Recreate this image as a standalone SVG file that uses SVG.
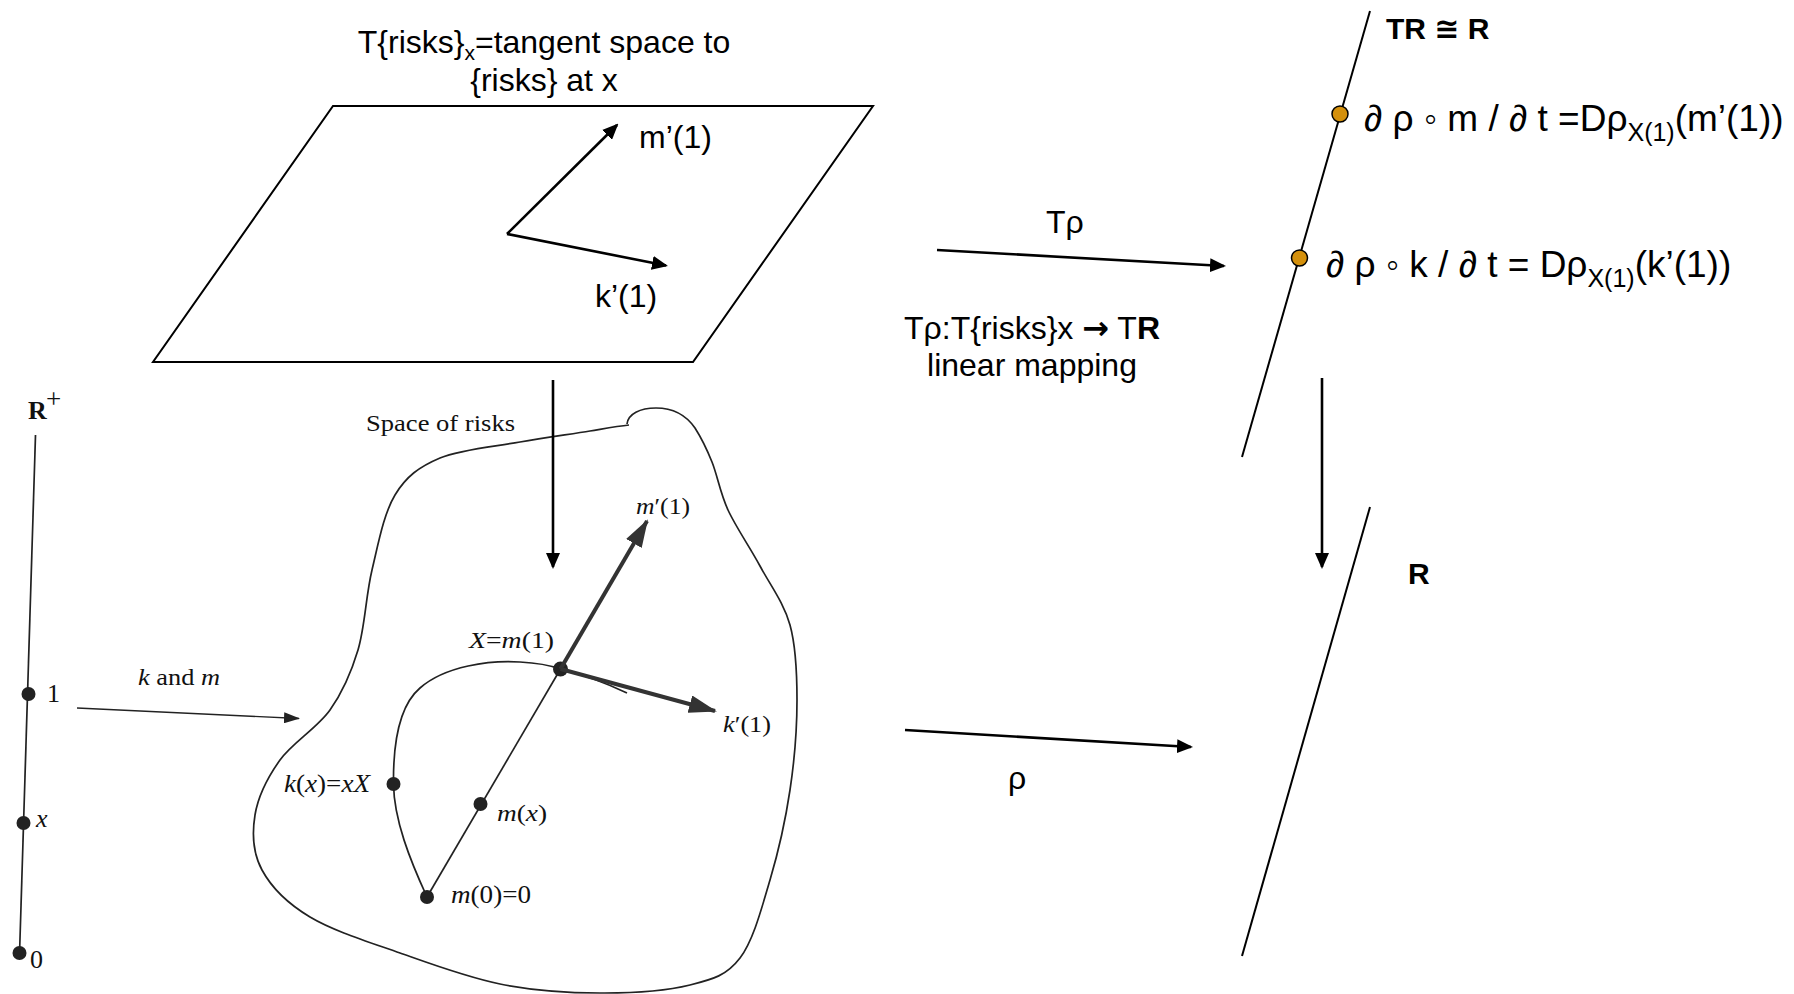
<svg xmlns="http://www.w3.org/2000/svg" width="1794" height="994" viewBox="0 0 1794 994">
<style>
  .sans{font-family:"Liberation Sans",Arial,"DejaVu Sans",sans-serif;fill:#000}
  .t32{font-size:32px}
  .t37{font-size:37px}
  .b{font-weight:bold}
  .serif{font-family:"Liberation Serif","Times New Roman",serif;fill:#111}
  .it{font-style:italic}
  .ln{fill:none;stroke:#000;stroke-width:2}
  .scan{fill:none;stroke:#222;stroke-width:1.7}
  .dot{fill:#222}
  .odot{fill:#D4900C;stroke:#000;stroke-width:1.5}
  .arr{fill:none;stroke:#000;stroke-width:2.6;marker-end:url(#ah)}
  .thick{fill:none;stroke:#333;stroke-width:4;marker-end:url(#ahThick)}
  .thin{fill:none;stroke:#222;stroke-width:1.4;marker-end:url(#ahThin)}
</style>
<defs>
  <marker id="ah" markerUnits="userSpaceOnUse" markerWidth="16" markerHeight="14" refX="14" refY="7" orient="auto" viewBox="0 0 16 14">
    <path d="M0,0 L16,7 L0,14 Z" fill="#000"/>
  </marker>
  <marker id="ahThick" markerUnits="userSpaceOnUse" markerWidth="28" markerHeight="18" refX="26" refY="9" orient="auto" viewBox="0 0 28 18">
    <path d="M0,0 L28,9 L0,18 Z" fill="#333"/>
  </marker>
  <marker id="ahThin" markerUnits="userSpaceOnUse" markerWidth="16" markerHeight="11" refX="15" refY="5.5" orient="auto" viewBox="0 0 16 11">
    <path d="M0,0 L16,5.5 L0,11 Z" fill="#222"/>
  </marker>
</defs>

<g id="tangent-space-title">
  <text class="sans t32" x="544" y="53" text-anchor="middle">T{risks}<tspan font-size="21" dy="7">x</tspan><tspan dy="-7">=tangent space to</tspan></text>
  <text class="sans t32" x="544" y="91" text-anchor="middle">{risks} at x</text>
</g>

<g id="tangent-plane">
  <polygon class="ln" points="333,106 873,106 693,362 153,362"/>
  <text class="sans t32" x="639" y="148">m’(1)</text>
  <text class="sans t32" x="595" y="307">k’(1)</text>
</g>

<g id="tr-line">
  <line class="ln" x1="1370" y1="11" x2="1242" y2="457"/>
  <text class="sans b" font-size="30" x="1386" y="39">TR ≅ R</text>
  <circle class="odot" cx="1340" cy="114" r="8"/>
  <circle class="odot" cx="1299.5" cy="258" r="8"/>
  <text class="sans t37" x="1364" y="131">∂ ρ ◦ m / ∂ t =Dρ<tspan font-size="25" dy="10">X(1)</tspan><tspan dy="-10">(m’(1))</tspan></text>
  <text class="sans t37" x="1326" y="277">∂ ρ ◦ k / ∂ t = Dρ<tspan font-size="25" dy="10">X(1)</tspan><tspan dy="-10">(k’(1))</tspan></text>
</g>

<g id="r-line">
  <line class="ln" x1="1370" y1="507" x2="1242" y2="956"/>
  <text class="sans b" font-size="30" x="1408" y="584">R</text>
</g>

<g id="r-plus-axis">
  <line class="scan" x1="35.5" y1="435" x2="19.5" y2="955"/>
  <text class="serif b" font-size="26" x="28" y="419">R</text>
  <text class="serif" font-size="27" x="46" y="408">+</text>
  <circle class="dot" cx="28.5" cy="694" r="7"/>
  <circle class="dot" cx="23.5" cy="823" r="7"/>
  <circle class="dot" cx="19.5" cy="953" r="7"/>
  <text class="serif" font-size="26" x="47" y="702">1</text>
  <text class="serif it" font-size="26" x="36" y="827">x</text>
  <text class="serif" font-size="26" x="30" y="968">0</text>
</g>

<g id="space-of-risks">
  <path class="scan" d="M627,424 C628,414 640,408 656,408 C672,408 686,415 695,428
    C700.3,436.3 706.5,448.3 712,462
    C717.5,475.7 720,492.7 728,510
    C736,527.3 749.7,546.8 760,566
    C770.3,585.2 783.8,602.7 790,625
    C796.2,647.3 797,672.5 797,700
    C797,727.5 794.5,760 790,790
    C785.5,820 778.3,852 770,880
    C761.7,908 753.3,940.5 740,958
    C726.7,975.5 713.3,979.2 690,985
    C666.7,990.8 631.7,993.2 600,993
    C568.3,992.8 533.3,990.7 500,984
    C466.7,977.3 431.7,964.2 400,953
    C368.3,941.8 333,930.8 310,917
    C287,903.2 271.2,887 262,870
    C252.8,853 252,833.3 255,815
    C258,796.7 267.5,777.5 280,760
    C292.5,742.5 317,728.3 330,710
    C343,691.7 351,673.3 358,650
    C365,626.7 365.8,595.8 372,570
    C378.2,544.2 383.7,513.7 395,495
    C406.3,476.3 419.2,466.8 440,458
    C460.8,449.2 495,446.5 520,442
    C545,437.5 572.2,434 590,431
    C607.8,428 617,426.2 629,425"/>
  <text class="serif" font-size="24" x="366" y="431" textLength="149" lengthAdjust="spacingAndGlyphs">Space of risks</text>
  <path class="scan" d="M427,897 C410,860 394,820 393.5,784 C393,740 400,705 420,688 C445,666 490,660 520,662 C540,663 552,666 560,669 C585,675 610,685 627,693"/>
  <line class="scan" x1="427" y1="897" x2="560.5" y2="669"/>
  <circle class="dot" cx="427" cy="897" r="7"/>
  <circle class="dot" cx="480.5" cy="804" r="7"/>
  <circle class="dot" cx="393.5" cy="784" r="7"/>
  <circle class="dot" cx="560.5" cy="669" r="7.5"/>
  <text class="serif" font-size="24" x="636" y="514" textLength="54" lengthAdjust="spacingAndGlyphs"><tspan class="it">m</tspan>′(1)</text>
  <text class="serif" font-size="24" x="469" y="648" textLength="85" lengthAdjust="spacingAndGlyphs"><tspan class="it">X</tspan>=<tspan class="it">m</tspan>(1)</text>
  <text class="serif" font-size="24" x="723" y="732" textLength="48" lengthAdjust="spacingAndGlyphs"><tspan class="it">k</tspan>′(1)</text>
  <text class="serif" font-size="26" x="284" y="792" textLength="86" lengthAdjust="spacingAndGlyphs"><tspan class="it">k</tspan>(<tspan class="it">x</tspan>)=<tspan class="it">xX</tspan></text>
  <text class="serif" font-size="24" x="497" y="821" textLength="50" lengthAdjust="spacingAndGlyphs"><tspan class="it">m</tspan>(<tspan class="it">x</tspan>)</text>
  <text class="serif" font-size="25" x="451" y="903" textLength="80" lengthAdjust="spacingAndGlyphs"><tspan class="it">m</tspan>(0)=0</text>
</g>

<g id="mapping-labels">
  <text class="sans t32" x="1046" y="233">Tρ</text>
  <text class="sans t32" x="1032" y="339" text-anchor="middle">Tρ:T{risks}x <tspan font-family="'DejaVu Sans',sans-serif" font-weight="bold">→</tspan> T<tspan class="b">R</tspan></text>
  <text class="sans t32" x="1032" y="376" text-anchor="middle">linear mapping</text>
  <text class="sans t32" x="1008" y="789">ρ</text>
  <text class="serif" font-size="23" x="138" y="685" textLength="82" lengthAdjust="spacingAndGlyphs"><tspan class="it">k</tspan> and <tspan class="it">m</tspan></text>
</g>

<g id="connectors">
  <line class="arr" x1="507" y1="234" x2="617" y2="125"/>
  <line class="arr" x1="507" y1="234" x2="666" y2="265.5"/>
  <line class="arr" x1="553" y1="380" x2="553" y2="567"/>
  <line class="arr" stroke-width="3" x1="937" y1="250" x2="1224" y2="266"/>
  <line class="arr" stroke-width="3" x1="905" y1="730" x2="1191" y2="747"/>
  <line class="arr" x1="1322" y1="378" x2="1322" y2="567"/>
  <line class="thick" x1="560.5" y1="669" x2="647" y2="521"/>
  <line class="thick" x1="560.5" y1="669" x2="715" y2="711"/>
  <line class="thin" x1="77" y1="708" x2="299" y2="718.5"/>
</g>
</svg>
